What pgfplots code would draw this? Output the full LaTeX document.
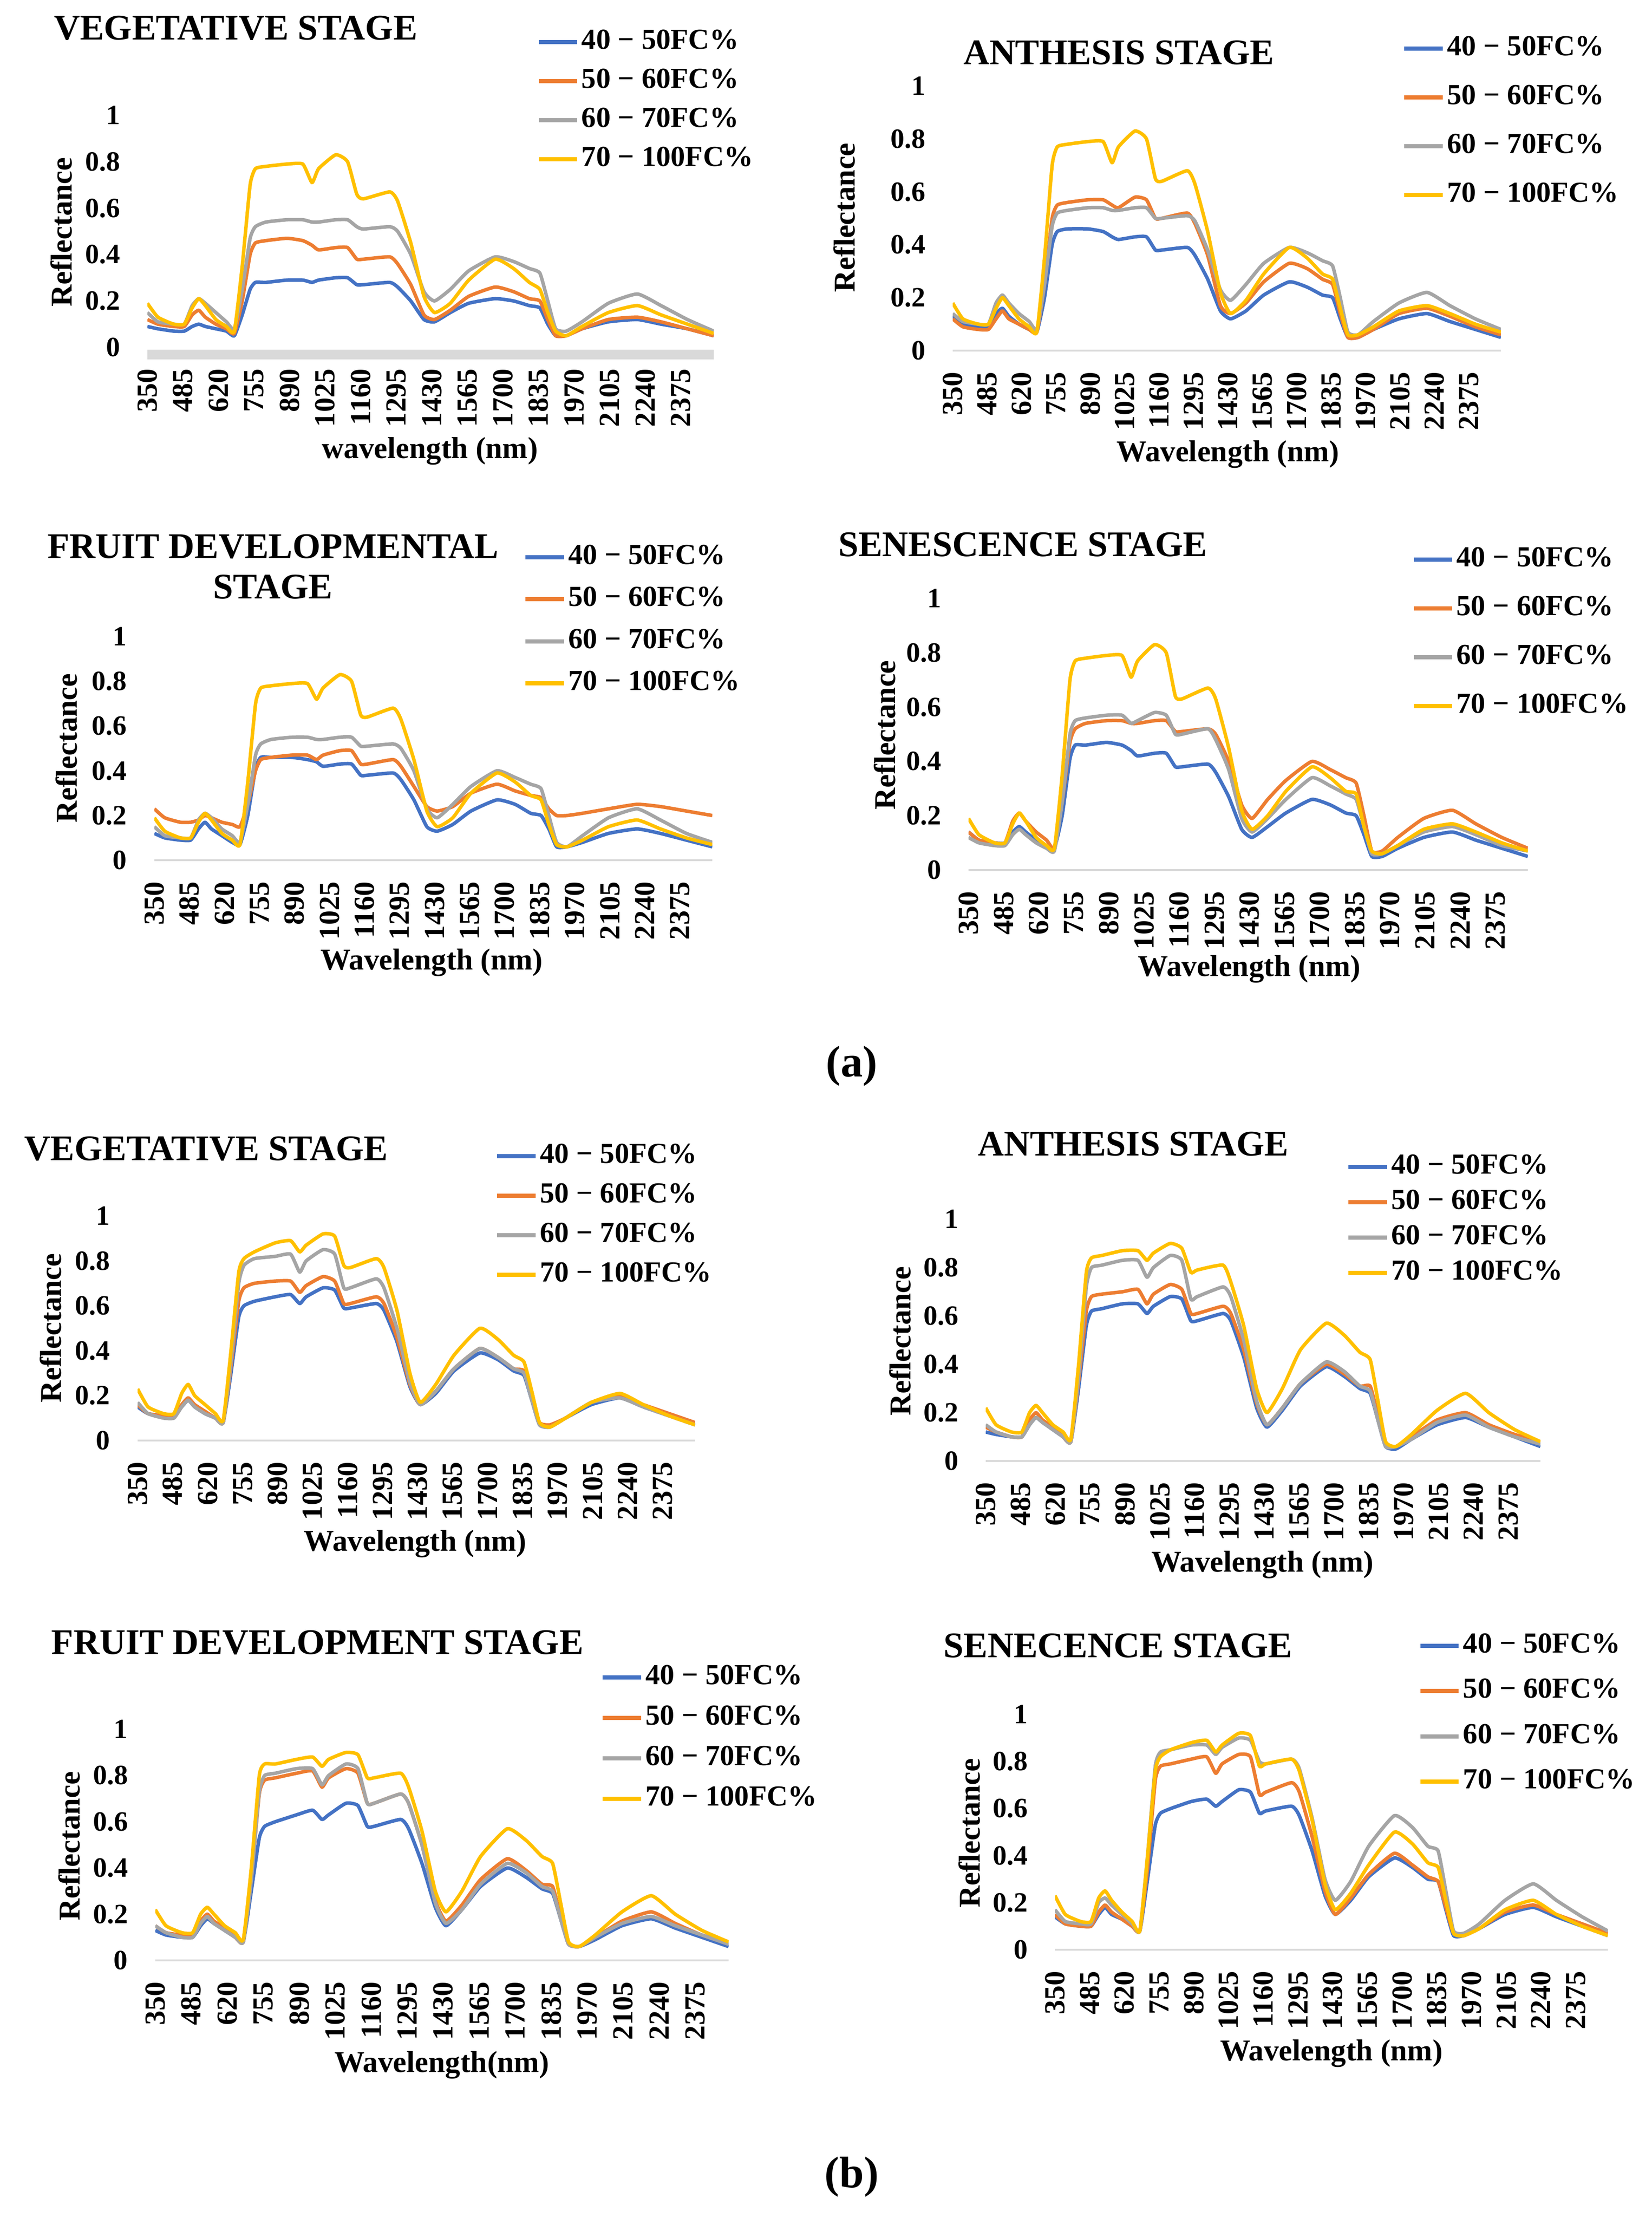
\documentclass[border=0pt]{standalone}
\usepackage{fontspec}
\setmainfont{Liberation Serif}
\usepackage{pgfplots}
\usepackage{pgfplotstable}
\pgfplotsset{compat=1.18}
\definecolor{cb}{HTML}{4472C4}
\definecolor{co}{HTML}{ED7D31}
\definecolor{cg}{HTML}{A5A5A5}
\definecolor{cy}{HTML}{FFC000}
\definecolor{axg}{HTML}{D9D9D9}

% columns: wavelength, 40-50, 50-60, 60-70, 70-100 FC%
\pgfplotstableread{
wl b o g y
350 .09 .12 .15 .19
390 .08 .10 .11 .13
450 .07 .09 .10 .10
490 .07 .09 .10 .10
520 .09 .14 .18 .17
545 .10 .16 .21 .21
570 .09 .13 .19 .18
610 .08 .10 .15 .12
650 .07 .08 .11 .09
680 .05 .06 .08 .07
710 .14 .20 .25 .35
740 .25 .40 .47 .70
760 .28 .45 .52 .77
800 .28 .46 .54 .78
880 .29 .47 .55 .79
940 .29 .46 .55 .79
975 .28 .44 .54 .71
1000 .29 .42 .54 .77
1065 .30 .43 .55 .83
1110 .30 .43 .55 .80
1145 .27 .38 .52 .66
1170 .27 .38 .51 .64
1270 .28 .39 .52 .67
1300 .26 .36 .50 .63
1350 .20 .27 .40 .45
1400 .12 .14 .24 .22
1440 .11 .12 .20 .15
1500 .15 .16 .25 .19
1570 .19 .22 .33 .29
1670 .21 .26 .39 .38
1740 .20 .24 .37 .34
1800 .18 .21 .34 .28
1840 .17 .20 .32 .25
1870 .10 .12 .20 .15
1900 .05 .05 .08 .07
1940 .05 .05 .07 .05
2000 .08 .08 .11 .09
2100 .11 .12 .19 .15
2210 .12 .13 .23 .18
2300 .10 .11 .18 .14
2400 .08 .08 .12 .10
2500 .05 .05 .07 .06
}\tVa

\pgfplotstableread{
wl b o g y
350 .13 .12 .14 .18
390 .10 .09 .11 .12
450 .09 .08 .10 .10
490 .09 .08 .10 .10
520 .14 .12 .18 .16
545 .16 .15 .21 .20
570 .13 .12 .18 .17
610 .10 .10 .14 .12
650 .08 .08 .11 .09
680 .07 .07 .08 .07
710 .20 .25 .25 .35
740 .40 .50 .47 .70
760 .45 .55 .52 .77
800 .46 .56 .53 .78
880 .46 .57 .54 .79
940 .45 .57 .54 .79
975 .43 .55 .53 .71
1000 .42 .54 .53 .77
1065 .43 .58 .54 .83
1110 .43 .57 .54 .80
1145 .38 .50 .50 .65
1170 .38 .50 .50 .64
1270 .39 .52 .51 .68
1300 .36 .48 .49 .63
1350 .27 .36 .38 .45
1400 .15 .17 .23 .22
1440 .12 .14 .19 .14
1500 .15 .18 .25 .19
1570 .21 .26 .33 .29
1670 .26 .33 .39 .39
1740 .24 .31 .37 .35
1800 .21 .27 .34 .29
1840 .20 .25 .32 .27
1870 .12 .14 .20 .16
1900 .05 .05 .07 .06
1940 .05 .05 .06 .06
2000 .08 .08 .11 .09
2100 .12 .14 .18 .15
2210 .14 .16 .22 .17
2300 .11 .13 .17 .14
2400 .08 .09 .12 .10
2500 .05 .06 .08 .07
}\tAa

\pgfplotstableread{
wl b o g y
350 .12 .23 .15 .19
390 .10 .19 .11 .13
450 .09 .17 .10 .10
490 .09 .17 .10 .10
520 .14 .18 .18 .17
545 .17 .20 .21 .21
570 .14 .19 .19 .18
610 .11 .17 .14 .12
650 .08 .16 .11 .09
680 .07 .15 .08 .07
710 .20 .25 .25 .35
740 .41 .40 .47 .70
760 .46 .45 .52 .77
800 .46 .46 .54 .78
880 .46 .47 .55 .79
940 .45 .47 .55 .79
975 .44 .45 .54 .72
1000 .42 .47 .54 .77
1065 .43 .49 .55 .83
1110 .43 .49 .55 .80
1145 .38 .43 .51 .65
1170 .38 .43 .51 .64
1270 .39 .45 .52 .68
1300 .36 .42 .50 .63
1350 .27 .33 .40 .45
1400 .15 .24 .23 .22
1440 .13 .22 .19 .15
1500 .16 .24 .25 .19
1570 .22 .30 .33 .30
1670 .27 .34 .40 .39
1740 .25 .31 .37 .35
1800 .21 .29 .34 .29
1840 .20 .28 .32 .27
1870 .14 .23 .20 .16
1900 .06 .20 .08 .07
1940 .06 .20 .06 .06
2000 .08 .21 .11 .09
2100 .12 .23 .19 .15
2210 .14 .25 .23 .18
2300 .12 .24 .18 .14
2400 .09 .22 .12 .10
2500 .06 .20 .08 .07
}\tFa

\pgfplotstableread{
wl b o g y
350 .14 .14 .12 .19
390 .11 .11 .10 .13
450 .10 .10 .09 .10
490 .10 .10 .09 .10
520 .14 .18 .13 .17
545 .16 .21 .15 .21
570 .14 .18 .13 .18
610 .11 .14 .10 .12
650 .09 .11 .08 .09
680 .08 .08 .07 .08
710 .20 .25 .25 .35
740 .41 .47 .50 .70
760 .46 .52 .55 .77
800 .46 .54 .56 .78
880 .47 .55 .57 .79
940 .46 .55 .57 .79
975 .44 .54 .54 .71
1000 .42 .54 .55 .77
1065 .43 .55 .58 .83
1110 .43 .55 .57 .80
1145 .38 .51 .50 .64
1170 .38 .51 .50 .63
1270 .39 .52 .52 .67
1300 .36 .50 .48 .63
1350 .27 .40 .37 .45
1400 .15 .24 .19 .22
1440 .12 .19 .14 .15
1500 .16 .26 .19 .20
1570 .21 .33 .26 .29
1670 .26 .40 .34 .38
1740 .24 .37 .31 .34
1800 .21 .34 .28 .29
1840 .20 .32 .26 .28
1870 .13 .20 .16 .16
1900 .05 .07 .06 .07
1940 .05 .07 .06 .06
2000 .08 .12 .09 .09
2100 .12 .19 .14 .15
2210 .14 .22 .16 .17
2300 .11 .17 .13 .14
2400 .08 .12 .09 .10
2500 .05 .08 .07 .07
}\tSa

\pgfplotstableread{
wl b o g y
350 .15 .16 .17 .23
390 .12 .12 .12 .15
450 .11 .11 .10 .12
490 .11 .11 .10 .12
520 .15 .16 .15 .21
545 .18 .19 .18 .25
570 .15 .16 .15 .20
610 .12 .13 .12 .16
650 .10 .10 .10 .12
680 .08 .08 .08 .09
710 .30 .33 .35 .40
740 .55 .62 .70 .75
760 .60 .68 .78 .81
800 .62 .70 .81 .84
880 .64 .71 .82 .88
940 .65 .71 .83 .89
975 .61 .66 .75 .84
1000 .64 .69 .80 .87
1065 .68 .73 .85 .92
1110 .67 .71 .83 .91
1145 .59 .61 .68 .78
1170 .59 .61 .68 .77
1270 .61 .64 .72 .81
1300 .58 .61 .68 .77
1350 .44 .46 .50 .58
1400 .24 .25 .26 .30
1440 .16 .16 .16 .17
1500 .21 .22 .22 .25
1570 .31 .32 .32 .38
1670 .39 .41 .41 .50
1740 .36 .37 .37 .45
1800 .31 .32 .32 .38
1840 .29 .31 .30 .35
1870 .18 .19 .18 .22
1900 .07 .08 .07 .08
1940 .06 .07 .06 .06
2000 .10 .10 .10 .10
2100 .16 .17 .17 .17
2210 .19 .20 .19 .21
2300 .15 .16 .15 .16
2400 .11 .12 .11 .11
2500 .07 .08 .07 .07
}\tVb

\pgfplotstableread{
wl b o g y
350 .12 .14 .15 .22
390 .11 .12 .12 .15
450 .10 .10 .10 .12
490 .10 .10 .10 .12
520 .15 .17 .15 .20
545 .18 .20 .18 .23
570 .16 .17 .16 .20
610 .13 .14 .13 .15
650 .10 .10 .10 .12
680 .08 .08 .08 .09
710 .30 .33 .35 .40
740 .56 .62 .72 .78
760 .62 .68 .80 .84
800 .63 .69 .81 .85
880 .65 .70 .83 .87
940 .65 .71 .83 .87
975 .61 .65 .76 .83
1000 .64 .69 .80 .86
1065 .68 .73 .85 .90
1110 .67 .71 .83 .88
1145 .58 .61 .67 .78
1170 .58 .61 .68 .79
1270 .61 .64 .72 .81
1300 .58 .61 .68 .74
1350 .43 .46 .50 .56
1400 .22 .24 .25 .30
1440 .14 .15 .15 .20
1500 .21 .22 .22 .30
1570 .31 .32 .32 .46
1670 .39 .40 .41 .57
1740 .35 .36 .37 .52
1800 .30 .31 .31 .45
1840 .28 .31 .29 .42
1870 .17 .19 .17 .25
1900 .06 .07 .06 .08
1940 .05 .06 .06 .06
2000 .09 .10 .09 .11
2100 .15 .17 .16 .21
2210 .18 .20 .19 .28
2300 .14 .15 .14 .20
2400 .10 .11 .10 .13
2500 .06 .08 .07 .08
}\tAb

\pgfplotstableread{
wl b o g y
350 .13 .15 .15 .22
390 .11 .12 .12 .15
450 .10 .11 .10 .12
490 .10 .11 .10 .12
520 .15 .17 .16 .20
545 .18 .20 .19 .23
570 .16 .17 .16 .20
610 .13 .14 .13 .15
650 .10 .10 .10 .12
680 .08 .08 .08 .09
710 .30 .35 .35 .40
740 .53 .72 .73 .80
760 .58 .78 .80 .85
800 .60 .79 .81 .85
880 .63 .81 .83 .87
940 .65 .82 .83 .88
975 .61 .75 .76 .84
1000 .63 .79 .80 .87
1065 .68 .83 .85 .90
1110 .67 .81 .83 .89
1145 .58 .68 .68 .79
1170 .58 .68 .68 .79
1270 .61 .72 .72 .81
1300 .57 .68 .68 .75
1350 .42 .50 .50 .56
1400 .23 .26 .25 .30
1440 .15 .17 .16 .21
1500 .22 .24 .22 .30
1570 .32 .35 .33 .45
1670 .40 .44 .42 .57
1740 .36 .39 .38 .52
1800 .31 .33 .32 .45
1840 .29 .32 .30 .42
1870 .18 .19 .18 .25
1900 .07 .07 .07 .08
1940 .06 .06 .06 .06
2000 .09 .10 .10 .11
2100 .15 .17 .16 .21
2210 .18 .21 .19 .28
2300 .14 .16 .15 .20
2400 .10 .11 .11 .13
2500 .06 .08 .07 .08
}\tFb

\pgfplotstableread{
wl b o g y
350 .14 .15 .17 .23
390 .11 .11 .12 .15
450 .10 .10 .11 .12
490 .10 .10 .11 .12
520 .15 .16 .20 .22
545 .18 .19 .22 .25
570 .15 .16 .19 .21
610 .13 .13 .15 .16
650 .10 .10 .11 .12
680 .08 .08 .08 .08
710 .30 .35 .40 .40
740 .53 .72 .78 .76
760 .58 .78 .84 .82
800 .60 .79 .85 .85
880 .63 .81 .87 .88
940 .64 .82 .87 .89
975 .61 .75 .83 .84
1000 .63 .79 .86 .87
1065 .68 .83 .90 .92
1110 .67 .82 .89 .91
1145 .58 .66 .80 .78
1170 .59 .67 .79 .79
1270 .61 .71 .81 .81
1300 .57 .67 .77 .76
1350 .42 .48 .56 .55
1400 .23 .25 .30 .28
1440 .15 .15 .21 .17
1500 .21 .22 .29 .24
1570 .31 .32 .44 .36
1670 .39 .41 .57 .50
1740 .35 .36 .52 .45
1800 .30 .31 .44 .37
1840 .29 .29 .42 .35
1870 .17 .18 .25 .21
1900 .06 .07 .08 .07
1940 .06 .06 .07 .06
2000 .09 .09 .11 .09
2100 .15 .16 .21 .17
2210 .18 .19 .28 .21
2300 .14 .15 .21 .15
2400 .10 .11 .14 .10
2500 .06 .07 .08 .06
}\tSb

\pgfplotsset{
  panel/.style={
    scale only axis,
    xmin=350, xmax=2500, ymin=0, ymax=1,
    axis x line*=bottom, axis y line*=left,
    y axis line style={draw=none},
    x axis line style={draw=axg, line width=0.7pt, -},
    major tick length=0pt,
    xtick={350,485,620,755,890,1025,1160,1295,1430,1565,1700,1835,1970,2105,2240,2375},
    xticklabels={350,485,620,755,890,1025,1160,1295,1430,1565,1700,1835,1970,2105,2240,2375},
    ytick={0,0.2,0.4,0.6,0.8,1},
    yticklabels={0,0.2,0.4,0.6,0.8,1},
    /pgf/number format/assume math mode=true,
    xticklabel style={rotate=90, anchor=east, inner sep=0pt, font=\fontsize{12.5}{12.5}\selectfont\bfseries},
    yticklabel style={anchor=east, inner sep=0pt, font=\fontsize{12}{12}\selectfont\bfseries},
    xticklabel shift=9pt, yticklabel shift=11.6pt,
    label style={font=\fontsize{13}{14}\selectfont\bfseries},
    title style={font=\fontsize{15.5}{17.4}\selectfont\bfseries, anchor=center, align=center},
    xlabel={Wavelength (nm)}, ylabel={Reflectance},
    legend cell align=left,
    legend style={draw=none, fill=none, anchor=west, inner sep=0pt, xshift=-3pt,
      font=\fontsize{12.5}{13}\selectfont\bfseries,
      nodes={inner xsep=1pt, inner ysep=0pt, text height=9pt, text depth=3pt}},
    legend image code/.code={\draw[#1, line width=1.8pt] (0pt,0pt) -- (16.5pt,0pt);},
    every axis plot/.append style={line width=1.5pt, line join=round, mark=none, smooth, tension=0.3},
  },
}

\newcommand{\fourplots}[1]{%
  \addplot[cb] table[x=wl,y=b]{#1};
  \addplot[co] table[x=wl,y=o]{#1};
  \addplot[cg] table[x=wl,y=g]{#1};
  \addplot[cy] table[x=wl,y=y]{#1};
  \legend{40 − 50FC\%, 50 − 60FC\%, 60 − 70FC\%, 70 − 100FC\%}%
}

\begin{document}
\begin{tikzpicture}
\path[use as bounding box] (0pt,0pt) rectangle (710.4pt,-954pt);

% (a) Vegetative
\begin{axis}[panel, at={(63.4pt,-149.4pt)}, anchor=south west,
  width=243.6pt, height=99.8pt,
  x axis line style={line width=4.2pt, yshift=-3pt},
  title={VEGETATIVE STAGE}, title style={at={(axis description cs:0.156,1.315)}},
  xlabel={wavelength (nm)},
  xlabel style={at={(axis description cs:0.499,-0.447)}, anchor=center},
  ylabel style={at={(axis description cs:-0.152,0.497)}, anchor=center},
  legend style={at={(axis description cs:0.699,1.063)}, row sep=4.8pt}]
\fourplots{\tVa}
\end{axis}

% (a) Anthesis
\begin{axis}[panel, at={(409.8pt,-150.8pt)}, anchor=south west,
  width=235.8pt, height=113.8pt,
  title={ANTHESIS STAGE}, title style={at={(axis description cs:0.303,1.074)}},
  xlabel style={at={(axis description cs:0.502,-0.392)}, anchor=center},
  ylabel style={at={(axis description cs:-0.198,0.503)}, anchor=center},
  legend style={at={(axis description cs:0.832,0.865)}, row sep=9pt}]
\fourplots{\tAa}
\end{axis}

% (a) Fruit developmental
\begin{axis}[panel, at={(66.4pt,-370pt)}, anchor=south west,
  width=240pt, height=96.2pt,
  title={FRUIT DEVELOPMENTAL\\STAGE}, title style={at={(axis description cs:0.2125,1.250)}},
  xlabel style={at={(axis description cs:0.497,-0.457)}, anchor=center},
  ylabel style={at={(axis description cs:-0.1575,0.501)}, anchor=center},
  legend style={at={(axis description cs:0.673,1.073)}, row sep=6.1pt}]
\fourplots{\tFa}
\end{axis}

% (a) Senescence
\begin{axis}[panel, at={(416.6pt,-374.2pt)}, anchor=south west,
  width=240.6pt, height=116.8pt,
  title={SENESCENCE STAGE}, title style={at={(axis description cs:0.097,1.147)}},
  xlabel style={at={(axis description cs:0.502,-0.365)}, anchor=center},
  ylabel style={at={(axis description cs:-0.150,0.497)}, anchor=center},
  legend style={at={(axis description cs:0.804,0.873)}, row sep=9pt}]
\fourplots{\tSa}
\end{axis}

% (b) Vegetative
\begin{axis}[panel, at={(59.2pt,-619.6pt)}, anchor=south west,
  width=239.8pt, height=96.6pt,
  title={VEGETATIVE STAGE}, title style={at={(axis description cs:0.123,1.238)}},
  xlabel style={at={(axis description cs:0.498,-0.460)}, anchor=center},
  ylabel style={at={(axis description cs:-0.156,0.501)}, anchor=center},
  legend style={at={(axis description cs:0.653,1.002)}, row sep=5pt}]
\fourplots{\tVb}
\end{axis}

% (b) Anthesis
\begin{axis}[panel, at={(424pt,-628.4pt)}, anchor=south west,
  width=238.6pt, height=104pt,
  title={ANTHESIS STAGE}, title style={at={(axis description cs:0.266,1.254)}},
  xlabel style={at={(axis description cs:0.499,-0.429)}, anchor=center},
  ylabel style={at={(axis description cs:-0.154,0.496)}, anchor=center},
  legend style={at={(axis description cs:0.662,0.998)}, row sep=3.2pt}]
\fourplots{\tAb}
\end{axis}

% (b) Fruit development
\begin{axis}[panel, at={(66.8pt,-843.2pt)}, anchor=south west,
  width=246.6pt, height=99.4pt,
  title={FRUIT DEVELOPMENT STAGE}, title style={at={(axis description cs:0.283,1.316)}},
  xlabel={Wavelength(nm)},
  xlabel style={at={(axis description cs:0.500,-0.453)}, anchor=center},
  ylabel style={at={(axis description cs:-0.150,0.495)}, anchor=center},
  legend style={at={(axis description cs:0.788,0.962)}, row sep=5.4pt}]
\fourplots{\tFb}
\end{axis}

% (b) Senecence
\begin{axis}[panel, at={(453.8pt,-838.6pt)}, anchor=south west,
  width=237.8pt, height=101.2pt,
  title={SENECENCE STAGE}, title style={at={(axis description cs:0.114,1.233)}},
  xlabel style={at={(axis description cs:0.500,-0.441)}, anchor=center},
  ylabel style={at={(axis description cs:-0.155,0.496)}, anchor=center},
  legend style={at={(axis description cs:0.669,1.003)}, row sep=7.5pt}]
\fourplots{\tSb}
\end{axis}

\node[font=\fontsize{19}{20}\selectfont\bfseries] at (366.4pt,-458.6pt) {(a)};
\node[font=\fontsize{19}{20}\selectfont\bfseries] at (366.4pt,-936.4pt) {(b)};
\end{tikzpicture}
\end{document}
